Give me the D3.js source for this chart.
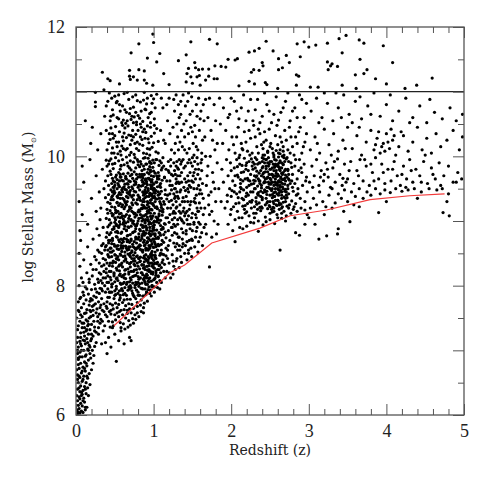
<!DOCTYPE html>
<html>
<head>
<meta charset="utf-8">
<script src="https://cdn.jsdelivr.net/npm/d3@7"></script>
<style>
  html, body { margin: 0; padding: 0; background: #fff; }
  svg { display: block; }
  .tick text { font-family: "Liberation Serif", "DejaVu Serif", serif; fill: #222; }
</style>
</head>
<body>
<div id="chart"></div>
<script>
// ── Data (z, log M*), grouped by region ────────────────────────────────────

// galaxies above the log M = 11 line
const massive = [
  [0.99,11.89],[0.81,11.74],[1.0,11.76],[0.71,11.6],[0.92,11.52],[1.04,11.46],[1.08,11.59],[0.34,11.3],[0.41,11.2],[0.44,11.17],
  [0.69,11.33],[0.69,11.24],[0.7,11.19],[0.81,11.34],[0.88,11.32],[0.74,11.23],[0.79,11.18],[0.88,11.18],[0.91,11.13],[0.99,11.1],
  [1.13,11.28],[1.2,11.11],[0.56,11.12],[0.36,11.03],[1.32,11.48],[1.42,11.57],[1.48,11.77],[1.53,11.45],[1.54,11.37],[1.45,11.36],
  [1.58,11.34],[1.43,11.28],[1.48,11.23],[1.56,11.23],[1.42,11.15],[1.5,11.13],[1.6,11.1],
  [1.72,11.81],[1.82,11.74],[2.45,11.78],[2.85,11.74],[2.94,11.77],[3.0,11.69],[3.09,11.72],[3.24,11.75],[2.36,11.67],[2.3,11.63],
  [2.23,11.61],[2.54,11.63],[2.71,11.56],[2.61,11.51],[2.75,11.45],[2.89,11.54],[3.24,11.46],[2.08,11.51],[2.05,11.49],[1.96,11.5],
  [1.79,11.4],[1.87,11.39],[1.93,11.38],[1.63,11.35],[1.71,11.35],[2.4,11.45],[2.29,11.34],[2.36,11.33],[2.26,11.3],[2.41,11.4],
  [2.61,11.34],[2.66,11.37],[2.84,11.26],[2.87,11.24],[3.25,11.34],[3.28,11.4],[1.71,11.24],[1.78,11.2],[1.82,11.2],[1.67,11.18],
  [2.23,11.16],[2.3,11.12],[2.44,11.14],[2.46,11.11],[2.84,11.1],[3.02,11.07],[3.12,11.07],[2.1,11.09],[2.6,11.05],[1.59,11.25],
  [3.39,11.82],[3.48,11.87],[3.65,11.8],[3.71,11.75],[3.96,11.71],[3.43,11.6],[3.66,11.5],[4.08,11.45],[3.3,11.43],[3.37,11.39],
  [3.75,11.34],[3.71,11.28],[3.6,11.26],[3.86,11.2],[4.59,11.21],[3.43,11.1],[3.61,11.05],[4.0,11.12],[4.24,11.05],[4.39,11.1]
];

// low-redshift tail, z < 0.45
const lowZTail = [
  [0.02,6.02],[0.03,6.05],[0.05,6.03],[0.04,6.1],[0.07,6.06],[0.09,6.04],[0.12,6.08],[0.03,6.15],[0.06,6.18],[0.02,6.22],
  [0.08,6.14],[0.11,6.2],[0.14,6.12],[0.04,6.28],[0.07,6.3],[0.1,6.26],[0.13,6.33],[0.05,6.36],[0.02,6.4],[0.09,6.38],
  [0.16,6.3],[0.06,6.45],[0.11,6.44],[0.03,6.5],[0.08,6.52],[0.13,6.5],[0.18,6.47],[0.05,6.58],[0.1,6.6],[0.15,6.57],
  [0.02,6.62],[0.07,6.65],[0.12,6.68],[0.17,6.64],[0.04,6.72],[0.09,6.74],[0.14,6.76],[0.2,6.7],[0.06,6.8],[0.11,6.82],
  [0.16,6.85],[0.03,6.86],[0.22,6.8],[0.08,6.9],[0.13,6.93],[0.18,6.95],[0.05,6.97],[0.1,7.0],[0.15,7.02],[0.21,7.0],
  [0.03,7.05],[0.07,7.07],[0.12,7.1],[0.17,7.08],[0.24,7.06],[0.05,7.14],[0.09,7.16],[0.14,7.18],[0.19,7.15],[0.02,7.2],
  [0.11,7.22],[0.16,7.25],[0.22,7.22],[0.06,7.27],[0.13,7.3],[0.18,7.32],[0.26,7.28],[0.08,7.35],[0.03,7.38],[0.15,7.38],
  [0.2,7.4],[0.1,7.42],[0.24,7.36],[0.05,7.45],[0.13,7.47],[0.17,7.5],[0.28,7.45],[0.08,7.52],[0.22,7.54],[0.11,7.57],
  [0.04,7.6],[0.19,7.6],[0.26,7.58],[0.14,7.63],[0.3,7.56],[0.07,7.66],[0.21,7.68],[0.17,7.7],[0.1,7.72],[0.25,7.72],
  [0.03,7.75],[0.13,7.78],[0.29,7.75],[0.19,7.8],[0.06,7.82],[0.23,7.84],[0.33,7.8],[0.16,7.87],[0.09,7.9],[0.27,7.9],
  [0.2,7.94],[0.31,7.96],[0.12,7.98],[0.04,8.0],[0.24,8.02],[0.17,8.05],[0.34,8.04],[0.28,8.1],[0.07,8.12],[0.21,8.15],
  [0.32,8.18],[0.14,8.2],[0.26,8.25],[0.36,8.22],[0.05,8.3],[0.19,8.33],[0.3,8.35],[0.1,8.4],[0.35,8.42],[0.24,8.45],
  [0.04,8.5],[0.28,8.55],[0.15,8.6],[0.33,8.62],[0.06,8.7],[0.22,8.72],[0.3,8.78],[0.05,8.85],[0.27,8.88],[0.15,8.95],
  [0.31,9.02],[0.08,9.1],[0.26,9.15],[0.04,9.3],[0.2,9.35],[0.3,9.45],[0.1,9.6],[0.26,9.7],[0.08,9.85],[0.18,9.95],
  [0.28,10.1],[0.19,10.2],[0.21,10.45],[0.25,10.77],[0.25,10.84],[0.25,10.99],[0.12,10.55],[0.32,10.35],
  [0.01,6.08],[0.01,6.3],[0.02,6.55],[0.01,6.7],[0.02,6.95],[0.01,7.12],[0.02,7.32],[0.01,7.5],[0.03,6.88],[0.04,6.6],
  [0.05,6.9],[0.06,7.2],[0.07,6.35],[0.09,6.22],[0.12,6.4],[0.14,6.6],[0.08,7.42],[0.11,7.35],[0.15,7.12],[0.18,7.05],
  [0.2,7.25],[0.23,7.45],[0.16,7.4],[0.13,7.58],[0.18,7.76],[0.22,7.62],[0.26,7.82],
  [0.35,7.3],[0.38,7.12],[0.42,7.2],[0.45,7.05],[0.52,6.83],[0.4,6.95],[0.47,7.35],[0.33,7.1],[0.55,7.15],[0.5,7.25],
  [0.58,7.3],[0.62,7.1],[0.69,7.2],[0.71,7.15],
  [0.3,8.2],[0.33,8.5],[0.35,8.9],[0.32,9.2],[0.36,9.5],[0.34,9.8],[0.37,8.0],[0.36,7.6],[0.34,7.45],
  [0.04,6.42],[0.08,6.68],[0.12,6.91],[0.06,7.1],[0.1,7.28],[0.15,7.45],[0.19,7.52],[0.23,7.7],[0.27,7.64],[0.3,7.88],
  [0.03,6.78],[0.07,7.0],[0.11,7.15],[0.14,7.32],[0.18,7.62],[0.21,7.78],[0.25,7.95],[0.29,8.05],[0.32,7.7],[0.35,8.12],
  [0.05,6.25],[0.09,6.55],[0.13,6.8],[0.16,7.0],[0.2,7.18],[0.24,7.3],[0.28,7.52],[0.31,7.66],[0.34,7.92],[0.02,7.0],
  [0.06,7.55],[0.1,7.85],[0.14,7.95],[0.17,8.1],[0.22,8.25],[0.26,8.4],[0.3,8.52],[0.33,8.3],[0.12,6.12],[0.15,6.42],
  [0.08,6.32],[0.11,6.72],[0.03,7.62],[0.05,7.8],[0.09,8.05],[0.19,6.88],[0.23,6.92],[0.26,7.12],[0.29,7.35],[0.32,7.48],
  [0.36,7.72],[0.38,7.9],[0.39,8.2],[0.37,8.55],[0.4,8.05],[0.41,7.82],[0.43,7.6],[0.44,8.35],[0.42,8.7],[0.38,8.4],
  [0.31,7.42],[0.34,7.62],[0.37,7.38],[0.4,7.65],[0.43,7.9],[0.33,7.95],[0.36,8.32],[0.39,8.62],[0.41,8.15],[0.44,7.72],
  [0.38,7.55],[0.32,8.08],[0.35,8.65],[0.42,8.45],[0.29,7.25]
];

// main population around z ~ 0.4–1.15
const mainPeak = [
  [0.42,7.45],[0.48,7.38],[0.55,7.52],[0.61,7.41],[0.66,7.57],[0.73,7.49],[0.79,7.58],[0.45,7.56],[0.51,7.47],[0.58,7.35],
  [0.64,7.5],[0.7,7.39],[0.76,7.55],[0.84,7.6],[0.4,7.52],[0.53,7.58],[0.6,7.55],[0.68,7.46],[0.87,7.58],[0.47,7.44],
  [0.57,7.43],[0.63,7.33],[0.74,7.42],[0.81,7.52],[0.5,7.55],[0.44,7.36],[0.67,7.36],[0.77,7.48],[0.56,7.6],[0.71,7.58],
  [0.39,7.68],[0.43,7.82],[0.47,7.7],[0.5,7.92],[0.53,7.66],[0.56,7.78],[0.59,7.95],[0.62,7.63],[0.65,7.85],[0.68,7.72],
  [0.71,7.97],[0.74,7.65],[0.77,7.8],[0.8,7.9],[0.83,7.7],[0.86,7.84],[0.89,7.95],[0.92,7.76],[0.95,7.88],[0.98,7.98],
  [1.01,7.9],[0.41,7.95],[0.45,7.62],[0.49,7.8],[0.52,7.99],[0.55,7.71],[0.58,7.62],[0.61,7.86],[0.64,7.69],[0.67,7.93],
  [0.7,7.79],[0.73,7.88],[0.76,7.97],[0.79,7.68],[0.82,7.85],[0.85,7.96],[0.88,7.73],[0.91,7.9],[0.94,7.98],[0.97,7.84],
  [0.4,7.75],[0.44,7.9],[0.48,7.64],[0.54,7.88],[0.6,7.74],[0.66,7.62],[0.72,7.71],[0.78,7.93],[0.84,7.78],[0.9,7.86],
  [0.46,7.98],[0.57,7.85],[0.63,7.97],[0.69,7.64],[0.75,7.83],[0.81,7.99],[0.87,7.66],[0.93,7.94],[0.51,7.73],[0.62,7.78],
  [0.38,8.12],[0.4,8.35],[0.42,8.05],[0.43,8.44],[0.45,8.22],[0.46,8.02],[0.48,8.38],[0.49,8.15],[0.51,8.47],[0.52,8.27],
  [0.54,8.08],[0.55,8.4],[0.57,8.18],[0.58,8.32],[0.6,8.03],[0.61,8.45],[0.63,8.24],[0.64,8.11],[0.66,8.36],[0.67,8.49],
  [0.69,8.06],[0.7,8.29],[0.72,8.42],[0.73,8.14],[0.75,8.33],[0.76,8.01],[0.78,8.25],[0.79,8.46],[0.81,8.1],[0.82,8.37],
  [0.84,8.2],[0.85,8.04],[0.87,8.43],[0.88,8.28],[0.9,8.13],[0.91,8.39],[0.93,8.07],[0.94,8.31],[0.96,8.48],[0.97,8.19],
  [0.99,8.34],[1.0,8.09],[1.02,8.44],[1.03,8.23],[1.05,8.36],[1.06,8.14],[1.08,8.47],[1.1,8.28],[1.12,8.4],[1.14,8.33],
  [1.16,8.46],[0.39,8.26],[0.41,8.48],[0.44,8.13],[0.47,8.3],[0.5,8.06],[0.53,8.41],[0.56,8.23],[0.59,8.14],[0.62,8.38],
  [0.65,8.02],[0.68,8.21],[0.71,8.09],[0.74,8.47],[0.77,8.16],[0.8,8.3],[0.83,8.44],[0.86,8.17],[0.89,8.05],[0.92,8.24],
  [0.95,8.12],[0.98,8.42],[1.01,8.27],[1.04,8.05],[1.07,8.31],[1.09,8.2],[1.11,8.49],[0.43,8.31],[0.46,8.45],[0.49,8.2],
  [0.52,8.11],[0.55,8.3],[0.58,8.47],[0.61,8.16],[0.64,8.4],[0.67,8.26],[0.7,8.45],[0.73,8.04],[0.76,8.38],[0.79,8.2],
  [0.82,8.03],[0.85,8.32],[0.88,8.46],[0.91,8.18],[0.94,8.43],[0.97,8.07],[1.0,8.39],[1.03,8.16],[0.45,8.09],[0.51,8.36],
  [0.57,8.04],[0.63,8.46],[0.69,8.34],[0.75,8.24],[0.81,8.42],[0.87,8.1],[0.93,8.36],[0.99,8.21],[1.05,8.25],[1.13,8.22],
  [0.38,8.6],[0.4,8.82],[0.41,8.55],[0.43,8.94],[0.44,8.7],[0.46,8.52],[0.47,8.87],[0.49,8.64],[0.5,8.98],[0.52,8.76],
  [0.53,8.57],[0.55,8.9],[0.56,8.68],[0.58,8.81],[0.59,8.53],[0.61,8.95],[0.62,8.73],[0.64,8.61],[0.65,8.86],[0.67,8.99],
  [0.68,8.56],[0.7,8.79],[0.71,8.92],[0.73,8.64],[0.74,8.83],[0.76,8.51],[0.77,8.75],[0.79,8.96],[0.8,8.6],[0.82,8.87],
  [0.83,8.7],[0.85,8.54],[0.86,8.93],[0.88,8.78],[0.89,8.63],[0.91,8.89],[0.92,8.57],[0.94,8.81],[0.95,8.98],[0.97,8.69],
  [0.98,8.84],[1.0,8.59],[1.01,8.94],[1.03,8.73],[1.04,8.86],[1.06,8.64],[1.07,8.97],[1.09,8.78],[1.1,8.55],[1.12,8.9],
  [1.13,8.67],[1.15,8.83],[1.16,8.58],[0.39,8.75],[0.42,8.66],[0.45,8.97],[0.48,8.54],[0.51,8.83],[0.54,8.62],[0.57,8.95],
  [0.6,8.71],[0.63,8.52],[0.66,8.77],[0.69,8.67],[0.72,8.54],[0.75,8.95],[0.78,8.66],[0.81,8.8],[0.84,8.94],[0.87,8.67],
  [0.9,8.55],[0.93,8.74],[0.96,8.62],[0.99,8.92],[1.02,8.77],[1.05,8.55],[1.08,8.81],[1.11,8.7],[1.14,8.96],[0.41,8.91],
  [0.44,8.58],[0.47,8.73],[0.5,8.61],[0.53,8.84],[0.56,8.99],[0.59,8.66],[0.62,8.88],[0.65,8.58],[0.68,8.9],[0.71,8.72],
  [0.74,8.6],[0.77,8.88],[0.8,8.72],[0.83,8.56],[0.86,8.8],[0.89,8.99],[0.92,8.68],[0.95,8.85],[0.98,8.53],[1.01,8.68],
  [1.04,8.99],[1.07,8.62],[1.1,8.87],[1.13,8.79],[0.43,8.79],[0.49,8.91],[0.55,8.56],[0.61,8.61],[0.67,8.7],[0.73,8.97],
  [0.79,8.58],[0.85,8.73],[0.91,8.66],[0.97,8.96],[1.03,8.6],[1.09,8.93],[0.46,8.65],[0.52,8.93],[0.58,8.58],[0.64,8.97],
  [0.7,8.6],[0.76,8.84],[0.82,8.63],[0.88,8.91],[0.94,8.57],[1.0,8.8],[1.06,8.75],
  [0.39,9.04],[0.41,9.29],[0.42,9.41],[0.44,9.16],[0.45,9.48],[0.47,9.08],[0.48,9.33],[0.5,9.21],[0.51,9.02],[0.53,9.38],
  [0.54,9.15],[0.56,9.44],[0.57,9.27],[0.59,9.06],[0.6,9.35],[0.62,9.19],[0.63,9.49],[0.65,9.1],[0.66,9.3],[0.68,9.43],
  [0.69,9.22],[0.71,9.01],[0.72,9.37],[0.74,9.13],[0.75,9.46],[0.77,9.28],[0.78,9.09],[0.8,9.4],[0.81,9.17],[0.83,9.32],
  [0.84,9.05],[0.86,9.45],[0.87,9.24],[0.89,9.36],[0.9,9.02],[0.92,9.3],[0.93,9.47],[0.95,9.18],[0.96,9.07],[0.98,9.39],
  [0.99,9.26],[1.01,9.12],[1.02,9.43],[1.04,9.2],[1.05,9.03],[1.07,9.35],[1.08,9.16],[1.1,9.46],[1.11,9.09],[1.13,9.3],
  [1.15,9.41],[0.4,9.18],[0.43,9.02],[0.46,9.37],[0.49,9.47],[0.52,9.13],[0.55,9.24],[0.58,9.41],[0.61,9.03],[0.64,9.28],
  [0.67,9.15],[0.7,9.47],[0.73,9.25],[0.76,9.06],[0.79,9.33],[0.82,9.48],[0.85,9.19],[0.88,9.08],[0.91,9.44],[0.94,9.22],
  [0.97,9.33],[1.0,9.47],[1.03,9.06],[1.06,9.4],[1.09,9.27],[1.12,9.14],[0.38,9.36],[0.44,9.27],[0.5,9.44],[0.56,9.11],
  [0.62,9.33],[0.68,9.04],[0.74,9.4],[0.8,9.14],[0.86,9.3],[0.92,9.12],[0.98,9.05],[1.04,9.34],[1.1,9.21],[0.41,9.12],
  [0.47,9.45],[0.53,9.29],[0.59,9.48],[0.65,9.38],[0.71,9.2],[0.77,9.45],[0.83,9.1],[0.89,9.2],[0.95,9.43],[1.01,9.38],
  [1.07,9.08],[1.14,9.26],[0.45,9.33],[0.51,9.17],[0.57,9.05],[0.63,9.22],[0.69,9.45],[0.75,9.11],[0.81,9.37],[0.87,9.02],
  [0.93,9.16],[0.99,9.49],[1.05,9.19],[0.48,9.1],[0.54,9.36],[0.6,9.25],[0.66,9.44],
  [0.38,9.62],[0.4,9.85],[0.42,9.55],[0.44,9.77],[0.45,9.96],[0.47,9.66],[0.49,9.52],[0.5,9.89],[0.52,9.71],[0.54,9.58],
  [0.55,9.93],[0.57,9.8],[0.59,9.63],[0.6,9.51],[0.62,9.87],[0.64,9.69],[0.65,9.99],[0.67,9.57],[0.69,9.82],[0.7,9.7],
  [0.72,9.53],[0.74,9.91],[0.75,9.76],[0.77,9.6],[0.79,9.95],[0.8,9.68],[0.82,9.84],[0.84,9.54],[0.85,9.78],[0.87,9.97],
  [0.89,9.64],[0.9,9.88],[0.92,9.56],[0.94,9.73],[0.95,9.92],[0.97,9.61],[0.99,9.83],[1.0,9.5],[1.02,9.74],[1.04,9.95],
  [1.05,9.65],[1.07,9.86],[1.09,9.58],[1.1,9.79],[1.12,9.98],[1.14,9.67],[0.41,9.7],[0.43,9.93],[0.46,9.58],[0.48,9.81],
  [0.51,9.98],[0.53,9.64],[0.56,9.53],[0.58,9.86],[0.61,9.73],[0.63,9.57],[0.66,9.9],[0.68,9.62],[0.71,9.79],[0.73,9.66],
  [0.76,9.98],[0.78,9.72],[0.81,9.55],[0.83,9.92],[0.86,9.67],[0.88,9.8],[0.91,9.61],[0.93,9.97],[0.96,9.76],[0.98,9.54],
  [1.01,9.9],[1.03,9.6],[1.06,9.75],[1.08,9.93],[1.11,9.63],[1.13,9.85],[0.39,9.94],[0.45,9.72],[0.5,9.6],[0.55,9.75],
  [0.6,9.95],[0.65,9.65],[0.7,9.93],[0.75,9.56],[0.8,9.87],[0.85,9.63],[0.9,9.52],[0.95,9.84],[1.0,9.69],[1.05,9.53],
  [1.1,9.9],[0.47,9.88],[0.57,9.68],[0.67,9.74],[0.77,9.82],[0.87,9.71],[0.97,9.89],[1.07,9.7],
  [0.4,10.1],[0.43,10.35],[0.46,10.05],[0.48,10.28],[0.51,10.46],[0.53,10.15],[0.56,10.38],[0.58,10.02],[0.61,10.24],[0.63,10.44],
  [0.66,10.12],[0.68,10.33],[0.71,10.06],[0.73,10.4],[0.76,10.2],[0.78,10.49],[0.81,10.09],[0.83,10.3],[0.86,10.17],[0.88,10.42],
  [0.91,10.04],[0.93,10.27],[0.96,10.45],[0.98,10.14],[1.01,10.36],[1.03,10.07],[1.06,10.23],[0.42,10.2],[0.45,10.44],[0.5,10.32],
  [0.55,10.22],[0.6,10.48],[0.65,10.29],[0.7,10.18],[0.75,10.03],[0.8,10.4],[0.85,10.26],[0.9,10.37],[0.95,10.11],[1.0,10.21],
  [0.47,10.13],[0.57,10.08],[0.62,10.36],[0.67,10.47],[0.72,10.25],[0.77,10.34],[0.82,10.19],[0.87,10.05],[0.92,10.47],[0.97,10.31],
  [0.39,10.4],[0.54,10.04],[0.64,10.1],[0.74,10.3],[0.84,10.45],[0.94,10.21],[1.04,10.43],[0.44,10.26],[0.59,10.16],[0.79,10.22],
  [0.37,10.62],[0.41,10.85],[0.44,10.55],[0.47,10.72],[0.5,10.93],[0.53,10.6],[0.56,10.8],[0.59,10.52],[0.62,10.97],[0.65,10.68],
  [0.68,10.88],[0.71,10.57],[0.74,10.76],[0.77,10.95],[0.8,10.63],[0.83,10.84],[0.86,10.54],[0.89,10.73],[0.92,10.9],[0.95,10.66],
  [0.98,10.82],[1.01,10.58],[1.04,10.96],[0.39,10.78],[0.43,10.98],[0.48,10.64],[0.52,10.83],[0.57,10.7],[0.61,10.56],[0.66,10.99],
  [0.7,10.74],[0.75,10.61],[0.79,10.86],[0.84,10.7],[0.88,10.99],[0.93,10.6],[0.97,10.94],[1.02,10.75],[0.46,10.9],[0.55,10.95],
  [0.64,10.51],[0.73,10.92],[0.82,10.59],[0.91,10.81],[1.0,10.89],[0.6,10.78],[0.69,10.66],[0.87,10.87],[0.78,10.53],[0.96,10.52],
  [0.45,10.62],[0.52,10.22],[0.58,9.85],[0.63,10.72],[0.69,10.02],[0.74,10.52],[0.8,9.92],[0.86,10.38],[0.92,10.12],[0.97,10.68],
  [1.03,9.95],[0.49,10.05],[0.55,10.58],[0.61,10.12],[0.67,9.85],[0.72,10.62],[0.78,10.12],[0.84,9.88],[0.9,10.72],[0.95,10.02],
  [1.01,10.48],[0.42,9.88],[0.47,10.35],[0.53,10.85],[0.6,10.3],[0.66,10.55],[0.71,10.32],[0.77,10.68],[0.83,10.5],[0.89,10.28]
];

// extra galaxies filling the saturated core of the z ~ 0.8 peak
const peakCore = [
  [0.47,8.03],[0.52,8.61],[0.58,9.12],[0.63,7.88],[0.69,8.47],[0.74,9.33],[0.8,8.14],[0.85,8.77],[0.91,9.58],[0.96,7.93],[1.02,8.52],[1.07,9.11],
  [0.49,8.88],[0.55,9.41],[0.6,8.29],[0.66,7.79],[0.71,9.02],[0.77,8.56],[0.83,9.68],[0.88,8.08],[0.94,8.95],[0.99,9.27],[1.05,7.97],[1.1,8.64],
  [0.46,9.22],[0.51,7.86],[0.57,8.49],[0.62,9.53],[0.68,8.18],[0.73,8.82],[0.79,7.74],[0.84,9.19],[0.9,8.41],[0.95,9.64],[1.01,8.86],[1.06,9.45],
  [0.48,8.37],[0.54,9.06],[0.59,7.95],[0.65,8.72],[0.7,9.61],[0.76,8.31],[0.81,9.04],[0.87,7.84],[0.92,8.67],[0.98,9.42],[1.03,8.2],[1.09,9.01],
  [0.5,9.55],[0.56,8.16],[0.61,8.97],[0.67,9.36],[0.72,7.92],[0.78,8.93],[0.83,8.38],[0.89,9.48],[0.94,8.11],[1.0,8.9],[1.04,9.6],[1.11,8.36],
  [0.45,8.58],[0.53,8.24],[0.58,9.68],[0.64,8.42],[0.69,9.18],[0.75,8.68],[0.8,9.52],[0.86,8.52],[0.91,7.9],[0.97,8.79],[1.02,9.21],[1.08,8.08],
  [0.47,9.39],[0.52,8.95],[0.57,7.81],[0.63,9.07],[0.68,8.6],[0.74,7.85],[0.79,9.26],[0.85,9.05],[0.9,8.81],[0.96,9.12],[1.01,7.98],[1.06,8.73],
  [0.49,8.18],[0.55,8.71],[0.6,9.45],[0.66,8.05],[0.71,8.36],[0.77,9.57],[0.82,8.26],[0.88,9.3],[0.93,9.66],[0.99,8.47],[1.04,8.34],[1.1,9.35],
  [0.51,9.13],[0.56,9.62],[0.62,8.12],[0.67,8.91],[0.73,9.5],[0.78,8.45],[0.84,7.96],[0.89,8.25],[0.95,8.58],[1.0,9.57],[1.05,9.05],[1.12,8.88],
  [0.46,7.9],[0.54,8.45],[0.59,8.83],[0.65,9.25],[0.7,8.0],[0.76,9.12],[0.81,8.6],[0.87,9.4],[0.92,9.15],[0.97,8.35],[1.03,9.47],[1.08,9.55],
  [0.48,9.62],[0.53,9.28],[0.61,8.68],[0.64,9.66],[0.72,8.52],[0.75,8.15],[0.82,9.36],[0.86,8.9],[0.93,8.55],[0.98,8.0],[1.02,8.65],[1.07,8.25],
  [0.5,8.48],[0.57,9.35],[0.62,8.05],[0.68,9.42],[0.71,8.7],[0.78,9.65],[0.8,7.85],[0.88,8.62],[0.94,9.38],[0.99,9.08],[1.04,8.99],[1.09,8.5],
  [0.52,7.95],[0.58,8.62],[0.63,9.3],[0.69,7.95],[0.74,9.0],[0.79,8.35],[0.85,9.25],[0.9,9.65],[0.96,8.7],[1.01,9.44],[1.06,8.15],[1.11,9.15],
  [0.55,8.92],[0.6,9.08],[0.66,8.55],[0.72,9.28],[0.77,8.05],[0.83,8.85],[0.89,8.15],[0.93,9.02],[0.98,9.6],[1.03,8.62],[1.08,9.3],
  [0.47,8.7],[0.53,9.5],[0.59,8.35],[0.65,8.85],[0.7,9.4],[0.75,8.42],[0.81,8.75],[0.86,9.55],[0.92,8.3],[0.97,9.18],[1.02,9.35],[1.07,9.65],
  [0.44,8.52],[0.5,9.05],[0.56,8.32],[0.61,9.62],[0.67,8.78],[0.72,9.15],[0.78,8.02],[0.83,8.62],[0.89,9.42],[0.94,8.22],[1.0,8.98],[1.05,9.68],
  [0.46,9.12],[0.52,8.42],[0.57,9.72],[0.63,8.92],[0.68,9.52],[0.74,8.38],[0.8,9.0],[0.85,9.72],[0.9,8.48],[0.96,9.32],[1.02,8.12],[1.07,8.82],
  [0.43,8.22],[0.49,9.42],[0.54,8.82],[0.6,8.58],[0.66,9.58],[0.71,8.22],[0.77,8.72],[0.82,9.15],[0.88,8.82],[0.93,9.8],[0.99,8.72],[1.04,9.22],
  [0.45,8.82],[0.51,9.68],[0.58,8.72],[0.64,8.25],[0.69,9.08],[0.75,9.62],[0.81,8.42],[0.86,9.2],[0.92,8.02],[0.97,9.5],[1.03,8.42],[1.08,9.42],
  [0.48,9.52],[0.53,8.12],[0.59,9.22],[0.65,9.48],[0.7,8.5],[0.76,8.58],[0.82,9.72],[0.87,8.32],[0.93,9.28],[0.98,8.3],[1.04,9.7],[0.55,9.55],
  [0.47,8.35],[0.53,8.75],[0.6,7.92],[0.66,8.68],[0.72,9.72],[0.77,8.92],[0.83,8.12],[0.88,9.58],[0.94,8.72],[1.0,8.28],[1.06,8.62],[0.62,9.0],
  [0.5,7.85],[0.56,7.92],[0.63,8.18],[0.68,7.98],[0.74,8.22],[0.8,8.05],[0.85,8.32],[0.91,8.12],[0.97,8.45],[1.02,8.35],[0.58,8.02],[0.7,8.12]
];

// the dense vertical stripe at z ~ 0.9
const denseStripe = [
  [0.86,7.95],[0.9,8.02],[0.94,8.06],[0.98,8.0],[1.01,8.1],[0.88,8.12],[0.92,8.16],[0.96,8.22],[0.99,8.18],[0.87,8.27],
  [0.91,8.3],[0.95,8.35],[1.0,8.33],[0.89,8.42],[0.93,8.45],[0.97,8.5],[1.02,8.47],[0.86,8.55],[0.9,8.58],[0.94,8.62],
  [0.98,8.65],[0.88,8.7],[0.92,8.74],[0.96,8.77],[1.0,8.72],[0.87,8.84],[0.91,8.86],[0.95,8.9],[0.99,8.88],[0.89,8.97],
  [0.93,9.0],[0.97,9.03],[1.01,9.0],[0.86,9.08],[0.9,9.1],[0.94,9.14],[0.98,9.17],[0.88,9.22],[0.92,9.25],[0.96,9.28],
  [1.0,9.24],[0.87,9.34],[0.91,9.38],[0.95,9.4],[0.99,9.36],[0.89,9.46],[0.93,9.5],[0.97,9.53],[1.01,9.5],[0.86,9.6],
  [0.9,9.62],[0.94,9.66],[0.98,9.64],[0.88,9.72],[0.92,9.75],[0.96,9.79],[1.0,9.77],[0.87,9.85],[0.91,9.88],[0.95,9.9],
  [0.99,9.94],[0.89,9.98],[0.93,8.4],[0.95,8.8],[0.91,9.2],[0.97,9.7],[0.9,8.92],[0.94,8.25],[0.96,9.56],[0.92,9.06],
  [0.88,8.37],[0.99,8.6],[0.87,9.44],[1.02,9.3],[0.85,8.2],[0.85,9.0],[0.85,9.7],[1.02,8.8]
];

// z ~ 1.05–1.7 shoulder of the first population
const midZ = [
  [1.17,8.22],[1.2,8.35],[1.22,8.12],[1.24,8.48],[1.26,8.3],[1.28,8.6],[1.3,8.42],[1.32,8.75],[1.34,8.55],[1.36,8.88],
  [1.38,8.65],[1.4,8.5],[1.42,8.8],[1.44,8.95],[1.46,8.7],[1.48,8.58],[1.5,8.85],[1.52,8.98],[1.54,8.75],[1.56,8.9],
  [1.58,8.68],[1.6,8.95],[1.62,8.82],[1.18,8.55],[1.21,8.7],[1.23,8.9],[1.25,8.18],[1.27,8.82],[1.29,8.38],[1.31,8.95],
  [1.33,8.28],[1.35,8.45],[1.37,8.72],[1.39,8.97],[1.41,8.62],[1.43,8.4],[1.45,8.55],[1.47,8.88],[1.49,8.45],[1.53,8.6],
  [1.57,8.52],[1.19,8.85],[1.3,8.65],[1.28,8.25],[1.33,8.62],[1.26,8.95],[1.36,8.36],[1.65,8.9],[1.63,8.62],[1.5,8.7],
  [1.16,9.05],[1.18,9.4],[1.2,9.75],[1.22,9.2],[1.24,9.55],[1.26,9.9],[1.28,9.12],[1.3,9.45],[1.32,9.8],[1.34,9.25],
  [1.36,9.6],[1.38,9.95],[1.4,9.08],[1.42,9.38],[1.44,9.7],[1.46,9.18],[1.48,9.52],[1.5,9.85],[1.52,9.3],[1.54,9.65],
  [1.56,9.98],[1.58,9.15],[1.6,9.48],[1.62,9.78],[1.64,9.35],[1.17,9.62],[1.19,9.92],[1.21,9.1],[1.23,9.48],[1.25,9.7],
  [1.27,9.35],[1.29,9.65],[1.31,9.02],[1.33,9.58],[1.35,9.88],[1.37,9.3],[1.39,9.52],[1.41,9.85],[1.43,9.15],[1.45,9.45],
  [1.47,9.75],[1.49,9.05],[1.51,9.6],[1.53,9.92],[1.55,9.4],[1.57,9.72],[1.59,9.28],[1.61,9.9],[1.63,9.58],[1.27,9.05],
  [1.28,9.5],[1.29,9.85],[1.3,9.22],[1.31,9.7],[1.26,9.42],[1.32,9.35],[1.33,9.95],[1.3,9.92],[1.27,9.78],[1.34,9.05],
  [1.25,9.25],[1.35,9.48],[1.29,9.2],[1.31,9.38],[1.28,9.72],[1.32,9.6],[1.22,9.85],[1.18,9.2],[1.4,9.3],[1.44,9.9],
  [1.48,9.3],[1.52,9.5],[1.56,9.2],[1.6,9.65],[1.42,9.6],[1.46,9.95],[1.5,9.12],[1.54,9.8],[1.58,9.55],[1.36,9.75],
  [1.38,9.15],[1.21,9.55],[1.24,9.02],[1.2,9.3],[1.16,9.8],[1.64,9.1],[1.62,9.95],[1.45,9.62],[1.55,9.05],[1.37,9.0],
  [1.06,10.05],[1.09,10.4],[1.12,10.75],[1.15,10.2],[1.18,10.55],[1.2,10.9],[1.23,10.1],[1.25,10.45],[1.27,10.7],[1.29,10.95],
  [1.31,10.3],[1.33,10.6],[1.35,10.85],[1.37,10.15],[1.39,10.5],[1.41,10.78],[1.43,10.05],[1.45,10.35],[1.47,10.65],[1.49,10.92],
  [1.51,10.2],[1.53,10.48],[1.55,10.8],[1.57,10.1],[1.59,10.4],[1.61,10.7],[1.63,10.25],[1.65,10.55],[1.67,10.88],[1.3,10.5],
  [1.34,10.22],[1.38,10.95],[1.42,10.55],[1.46,10.12],[1.5,10.7],[1.54,10.3],[1.58,10.9],[1.62,10.05],[1.28,10.2],[1.36,10.4],
  [1.44,10.85],[1.52,10.02],[1.6,10.58],[1.32,10.8],[1.4,10.3],[1.48,10.45],[1.56,10.62],[1.64,10.8],[1.26,10.88],[1.35,10.65],
  [1.45,10.98],[1.55,10.15],[1.21,10.35],[1.17,10.8],[1.13,10.25],[1.1,10.9],[1.4,10.1],[1.5,10.38],
  [1.1,8.05],[1.15,8.12],[1.08,7.95],[1.2,8.2],[1.25,8.38],[1.45,8.5],
  [1.07,8.62],[1.12,9.18],[1.16,8.74],[1.21,9.62],[1.24,8.9],[1.28,9.38],[1.31,8.55],[1.35,9.12],[1.39,9.82],[1.43,8.68],
  [1.47,9.25],[1.51,9.7],[1.55,8.84],[1.59,9.42],[1.09,9.52],[1.13,8.48],[1.18,9.05],[1.22,9.95],[1.26,8.66],[1.29,9.58],
  [1.33,9.15],[1.37,8.6],[1.41,9.47],[1.45,9.08],[1.49,8.72],[1.53,9.35],[1.57,9.88],[1.61,9.2],[1.06,9.02],[1.11,9.82],
  [1.15,8.95],[1.19,8.62],[1.23,9.32],[1.27,10.05],[1.3,8.8],[1.34,9.7],[1.38,9.36],[1.42,8.85],[1.46,9.55],[1.5,9.98],
  [1.54,9.1],[1.58,8.98],[1.08,8.32],[1.14,9.68],[1.17,9.34],[1.2,8.98],[1.25,9.12],[1.28,8.92],[1.32,10.1],[1.36,9.02],
  [1.4,9.65],[1.44,9.3],[1.48,9.9],[1.52,8.95],[1.56,9.5],[1.6,8.75],[1.1,9.25],[1.15,9.48],[1.19,9.78],[1.24,8.78],
  [1.27,9.5],[1.3,9.6],[1.33,8.75],[1.36,9.92],[1.39,9.2],[1.43,9.02],[1.47,8.95],[1.52,9.75],[1.57,9.15],[1.62,9.42],
  [1.12,8.88],[1.18,8.42],[1.23,9.72],[1.29,9.3],[1.34,9.45],[1.38,8.82],[1.44,9.5],[1.49,9.62],[1.54,9.28],[1.58,9.8],
  [1.26,9.15],[1.31,9.82],[1.21,9.42],[1.41,9.12]
];

// sparse gap z ~ 1.65–1.95
const gapZ = [
  [1.66,9.2],[1.68,9.55],[1.7,9.85],[1.72,8.29],[1.72,9.1],[1.74,9.45],[1.76,9.75],[1.78,9.0],[1.8,9.3],[1.67,8.95],
  [1.69,9.7],[1.71,9.4],[1.73,10.0],[1.75,9.15],[1.77,9.6],[1.79,10.1],[1.66,10.3],[1.7,10.6],[1.74,10.4],[1.78,10.8],
  [1.82,10.2],[1.86,10.5],[1.9,10.75],[1.84,9.5],[1.88,9.8],[1.92,9.2],[1.85,10.9],[1.8,10.55],[1.93,10.4],[1.68,8.8],
  [1.75,8.75],[1.82,9.9],[1.87,9.3],[1.9,9.6],[1.94,9.95],[1.76,10.25],[1.72,10.9],[1.96,10.6],[1.83,8.95],[1.67,10.0],
  [1.71,9.25],[1.79,9.5],[1.81,8.8],[1.89,10.2],[1.95,9.4]
];

// second population around z ~ 2–3
const clusterZ2 = [
  [1.96,8.95],[1.99,9.1],[2.02,8.85],[2.05,9.02],[2.08,9.15],[2.11,8.9],[2.14,9.05],[2.17,9.18],[2.2,8.92],[2.23,9.08],
  [2.26,9.2],[2.29,8.97],[2.32,9.12],[2.35,9.0],[2.38,9.16],[2.41,8.94],[2.44,9.06],[2.47,9.19],[2.5,9.02],[2.53,9.14],
  [2.56,8.96],[2.59,9.1],[2.62,9.18],[2.65,9.04],[2.68,9.15],[2.71,9.08],[2.74,9.2],[2.77,9.12],[2.8,9.18],[2.85,9.15],
  [2.9,9.2],[2.95,9.17],[2.0,9.18],[2.1,9.05],[2.2,9.14],[2.3,9.05],[2.4,9.2],[2.5,9.12],[2.6,9.05],[2.7,9.0],
  [2.15,8.88],[2.25,8.98],[2.45,8.99],[2.55,9.2],[2.65,9.12],[2.05,8.68],[2.63,8.55],[2.35,8.84],[2.82,9.05],[2.98,9.1],
  [1.95,9.3],[1.98,9.5],[2.0,9.38],[2.03,9.22],[2.05,9.55],[2.07,9.42],[2.1,9.28],[2.12,9.58],[2.14,9.35],[2.16,9.48],
  [2.18,9.24],[2.2,9.52],[2.22,9.4],[2.24,9.3],[2.26,9.57],[2.28,9.45],[2.3,9.22],[2.32,9.36],[2.34,9.54],[2.36,9.28],
  [2.38,9.46],[2.4,9.33],[2.42,9.59],[2.44,9.25],[2.46,9.41],[2.48,9.52],[2.5,9.3],[2.52,9.47],[2.54,9.21],[2.56,9.38],
  [2.58,9.56],[2.6,9.32],[2.62,9.44],[2.64,9.26],[2.66,9.53],[2.68,9.37],[2.7,9.49],[2.72,9.23],[2.74,9.42],[2.76,9.58],
  [2.78,9.31],[2.8,9.46],[2.83,9.27],[2.86,9.5],[2.89,9.35],[2.92,9.55],[2.95,9.3],[2.98,9.45],[2.01,9.47],[2.06,9.27],
  [2.11,9.45],[2.15,9.23],[2.19,9.38],[2.23,9.55],[2.27,9.32],[2.31,9.5],[2.35,9.4],[2.39,9.22],[2.43,9.48],[2.47,9.3],
  [2.51,9.57],[2.55,9.44],[2.59,9.24],[2.63,9.52],[2.67,9.29],[2.71,9.4],[2.75,9.25],[2.79,9.52],[2.84,9.4],[2.25,9.45],
  [2.37,9.58],[2.45,9.35],[2.53,9.36],[2.57,9.5],[2.61,9.4],[2.65,9.35],[2.69,9.57],[2.73,9.5],[2.33,9.26],[2.41,9.44],
  [2.49,9.24],[2.29,9.58],[2.21,9.27],[2.13,9.5],[2.09,9.36],[2.55,9.27],[2.65,9.45],[2.6,9.55],[2.5,9.4],[2.7,9.3],
  [1.96,9.7],[1.99,9.9],[2.02,9.62],[2.04,9.82],[2.07,9.95],[2.09,9.68],[2.11,9.88],[2.13,9.75],[2.15,9.62],[2.17,9.97],
  [2.19,9.8],[2.21,9.66],[2.23,9.92],[2.25,9.72],[2.27,9.85],[2.29,9.63],[2.31,9.98],[2.33,9.77],[2.35,9.65],[2.37,9.9],
  [2.39,9.7],[2.41,9.84],[2.43,9.61],[2.45,9.95],[2.47,9.76],[2.49,9.88],[2.51,9.64],[2.53,9.82],[2.55,9.99],[2.57,9.7],
  [2.59,9.86],[2.61,9.62],[2.63,9.93],[2.65,9.74],[2.67,9.87],[2.69,9.66],[2.71,9.96],[2.73,9.78],[2.75,9.63],[2.77,9.9],
  [2.79,9.72],[2.82,9.85],[2.85,9.65],[2.88,9.95],[2.91,9.75],[2.94,9.88],[2.97,9.68],[2.0,9.78],[2.05,9.7],[2.1,9.98],
  [2.14,9.86],[2.18,9.65],[2.22,9.78],[2.26,9.96],[2.3,9.7],[2.34,9.88],[2.38,9.78],[2.42,9.96],[2.46,9.66],[2.5,9.8],
  [2.54,9.68],[2.58,9.94],[2.62,9.8],[2.66,9.64],[2.7,9.8],[2.74,9.92],[2.78,9.62],[2.83,9.95],[2.87,9.78],[2.36,9.62],
  [2.44,9.76],[2.48,9.98],[2.52,9.72],[2.56,9.85],[2.6,9.72],[2.64,9.66],[2.68,9.98],[2.72,9.68],[2.4,9.92],[2.32,9.68],
  [2.28,9.8],[2.24,9.62],[2.2,9.9],[2.16,9.76],[2.12,9.64],[2.08,9.84],[2.57,9.6],[2.61,9.99],[2.65,9.9],[2.45,9.85],
  [2.55,9.78],[2.5,9.92],[2.6,9.88],[2.42,9.68],[2.67,9.75],[2.63,9.82],[2.53,9.6],[2.47,9.9],[2.58,9.74],
  [1.97,10.1],[2.01,10.3],[2.05,10.05],[2.09,10.45],[2.13,10.2],[2.17,10.38],[2.21,10.08],[2.25,10.28],[2.29,10.48],[2.33,10.15],
  [2.37,10.35],[2.41,10.02],[2.45,10.25],[2.49,10.42],[2.53,10.12],[2.57,10.32],[2.61,10.05],[2.65,10.22],[2.69,10.4],[2.73,10.1],
  [2.77,10.3],[2.81,10.02],[2.85,10.2],[2.89,10.45],[2.93,10.15],[2.97,10.35],[2.03,10.18],[2.11,10.02],[2.19,10.22],[2.27,10.05],
  [2.35,10.42],[2.43,10.38],[2.51,10.2],[2.59,10.48],[2.67,10.08],[2.75,10.45],[2.83,10.3],[2.91,10.05],[2.23,10.4],[2.39,10.18],
  [2.55,10.02],[2.63,10.3],[2.71,10.25],[2.47,10.08],[2.31,10.3],[2.15,10.1],[2.07,10.3],[2.79,10.15],[2.87,10.38],[2.95,10.22],
  [1.98,10.65],[2.04,10.85],[2.1,10.58],[2.16,10.95],[2.22,10.7],[2.28,10.55],[2.34,10.88],[2.4,10.62],[2.46,10.8],[2.52,10.52],
  [2.58,10.92],[2.64,10.68],[2.7,10.85],[2.76,10.55],[2.82,10.75],[2.88,10.95],[2.94,10.6],[2.0,10.9],[2.13,10.75],[2.25,10.88],
  [2.37,10.52],[2.49,10.7],[2.61,10.56],[2.73,10.98],[2.85,10.6],[2.97,10.82],[2.19,10.55],[2.43,10.98],[2.67,10.75],[2.31,10.72],
  [2.55,10.65],[2.79,10.7],[2.91,10.88],[2.07,10.7]
];

// the densest part of the z ~ 2.5 clump
const clusterCore = [
  [2.3,9.5],[2.33,9.7],[2.36,9.9],[2.39,9.55],[2.42,9.75],[2.45,9.95],[2.48,9.6],[2.51,9.8],[2.54,10.05],[2.57,9.65],
  [2.6,9.85],[2.63,10.1],[2.66,9.58],[2.69,9.78],[2.72,9.98],[2.32,9.3],[2.35,10.05],[2.38,9.38],[2.41,10.12],[2.44,9.45],
  [2.47,9.68],[2.5,9.5],[2.53,9.72],[2.56,9.95],[2.59,9.42],[2.62,9.62],[2.65,9.82],[2.68,10.02],[2.71,9.45],[2.74,9.65],
  [2.31,9.82],[2.34,9.42],[2.37,9.62],[2.4,9.82],[2.43,10.02],[2.46,9.52],[2.49,9.72],[2.52,9.92],[2.55,9.55],[2.58,9.78],
  [2.61,9.48],[2.64,9.68],[2.67,9.88],[2.7,9.62],[2.73,9.8],[2.58,9.25],[2.62,9.28],[2.66,9.22],[2.54,9.3],[2.5,9.22],
  [2.46,9.28],[2.7,9.35],[2.6,10.18],[2.5,10.15],[2.4,9.98],[2.56,9.6],[2.61,9.7],[2.63,9.55],[2.57,9.88],[2.53,9.5],
  [2.65,9.4],[2.59,9.58],[2.62,9.9],[2.55,9.38],[2.6,9.32],[2.64,9.6],[2.66,9.72],[2.52,9.6],[2.48,9.85],[2.44,9.65],
  [2.57,9.45],[2.67,9.5],[2.69,9.92],[2.63,9.78],[2.55,9.7],[2.61,9.6],
  [2.22,9.63],[2.28,9.91],[2.35,9.44],[2.41,9.73],[2.47,10.06],[2.53,9.41],[2.59,9.69],[2.66,10.0],[2.72,9.36],[2.78,9.83],
  [2.12,9.52],[2.19,9.86],[2.26,9.29],[2.33,9.95],[2.39,9.51],[2.45,9.81],[2.52,9.18],[2.58,10.09],[2.64,9.47],[2.7,9.71],
  [2.08,9.71],[2.16,9.33],[2.24,10.02],[2.31,9.62],[2.37,9.21],[2.43,9.9],[2.49,9.57],[2.56,9.83],[2.62,9.25],[2.68,9.64],
  [2.76,10.05],[2.82,9.58],[2.9,9.82],[2.04,9.45],[2.14,10.12],[2.29,9.12],[2.42,10.22],[2.55,9.15],[2.67,10.15],[2.81,9.22],
  [2.36,9.74],[2.5,9.66],[2.61,9.84],[2.73,9.55],[2.46,9.46],[2.57,9.32],[2.63,10.04],[2.54,9.88],[2.4,9.36],[2.69,9.46],
  [2.2,9.43],[2.3,9.88],[2.44,9.6],[2.6,9.5],[2.74,9.72],[2.86,9.42],[2.96,9.62],[2.18,9.12],[2.34,9.18],[2.65,9.2]
];

// sparse high-redshift galaxies, z > 3
const highZ = [
  [3.02,9.2],[3.06,9.35],[3.1,9.25],[3.14,9.45],[3.18,9.3],[3.22,9.22],[3.26,9.4],[3.3,9.5],[3.34,9.28],[3.38,9.42],
  [3.42,9.35],[3.46,9.48],[3.5,9.3],[3.55,9.45],[3.6,9.38],[3.65,9.5],[3.7,9.35],[3.75,9.45],[3.8,9.4],[3.86,9.5],
  [3.92,9.42],[3.98,9.48],[4.05,9.44],[4.12,9.5],[4.2,9.46],[4.28,9.48],[4.36,9.5],[4.45,9.45],[4.55,9.5],[4.65,9.48],
  [4.72,9.5],[4.78,9.3],[4.8,9.42],[4.9,9.6],[3.08,8.95],[3.13,8.72],[3.23,8.77],[3.37,8.8],[3.38,8.88],[3.53,8.99],
  [3.9,9.13],[4.73,9.13],[4.81,9.08],[2.83,8.82],[2.88,8.78],[2.95,8.95],[3.0,9.05],[3.2,9.1],[3.45,9.15],[3.65,9.22],
  [4.0,9.3],[4.4,9.35],[3.3,9.2],[3.58,9.25],
  [3.01,9.6],[3.04,9.85],[3.07,9.7],[3.1,9.95],[3.13,9.55],[3.16,9.78],[3.19,9.62],[3.22,9.9],[3.25,9.68],[3.28,9.52],
  [3.31,9.82],[3.34,9.6],[3.37,9.96],[3.4,9.72],[3.43,9.55],[3.46,9.88],[3.5,9.65],[3.54,9.92],[3.58,9.58],[3.62,9.78],
  [3.66,9.95],[3.7,9.62],[3.74,9.85],[3.78,9.55],[3.82,9.75],[3.86,9.98],[3.9,9.65],[3.94,9.88],[3.98,9.58],[4.02,9.8],
  [4.06,9.62],[4.1,9.92],[4.14,9.7],[4.18,9.55],[4.22,9.85],[4.26,9.65],[4.3,9.95],[4.34,9.6],[4.38,9.8],[4.43,9.7],
  [4.48,9.92],[4.53,9.58],[4.58,9.82],[4.63,9.65],[4.68,9.9],[4.74,9.7],[4.8,9.85],[4.86,9.6],[4.92,9.75],[4.97,9.65],
  [3.05,9.52],[3.15,9.68],[3.24,9.8],[3.33,9.92],[3.44,9.66],[3.52,9.78],[3.64,9.7],[3.72,9.95],[3.84,9.62],[3.96,9.75],
  [4.08,9.8],[4.2,9.72],[4.32,9.78],[4.45,9.6],[4.6,9.72],[4.7,9.55],[3.2,9.72],[3.48,9.6],[3.8,9.88],[4.25,9.52],
  [3.02,10.1],[3.08,10.3],[3.14,10.05],[3.2,10.42],[3.26,10.18],[3.32,10.35],[3.38,10.08],[3.44,10.25],[3.5,10.45],[3.56,10.12],
  [3.62,10.32],[3.68,10.02],[3.74,10.22],[3.8,10.4],[3.84,10.1],[3.88,10.28],[3.92,10.05],[3.96,10.2],[4.0,10.35],[4.04,10.12],
  [4.08,10.25],[4.12,10.02],[4.16,10.15],[4.22,10.32],[4.28,10.08],[4.34,10.22],[4.4,10.45],[4.46,10.1],[4.52,10.28],[4.58,10.05],
  [4.64,10.35],[4.7,10.15],[4.78,10.25],[4.86,10.4],[4.94,10.1],[3.86,10.18],[3.9,10.38],[4.02,10.22],[4.06,10.42],[4.1,10.32],
  [3.98,10.08],[3.94,10.15],[3.11,10.2],[3.29,10.02],[3.47,10.12],[3.65,10.45],[4.19,10.38],[4.5,10.02],[4.98,10.3],
  [3.03,10.7],[3.1,10.9],[3.17,10.6],[3.24,10.82],[3.31,10.55],[3.38,10.75],[3.45,10.95],[3.52,10.65],[3.6,10.85],[3.68,10.58],
  [3.76,10.78],[3.84,10.98],[3.92,10.62],[4.0,10.8],[4.08,10.55],[4.16,10.7],[4.25,10.9],[4.34,10.6],[4.43,10.78],[4.52,10.52],
  [4.62,10.68],[4.72,10.58],[4.82,10.75],[4.9,10.55],[4.98,10.65],[3.13,10.52],[3.35,10.98],[3.56,10.52],[3.8,10.65],[4.05,10.95],
  [4.3,10.52],[4.56,10.88],[3.42,10.6],[3.2,10.98],[3.66,10.92]
];

// red mass-completeness curve
const limitZ    = [0.49, 1.21, 1.40, 1.75, 2.37, 2.76, 3.23, 3.79, 4.30, 4.75];
const limitMass = [7.38, 8.20, 8.32, 8.66, 8.89, 9.08, 9.17, 9.33, 9.39, 9.42];

const xTicksMajor = [0, 1, 2, 3, 4, 5];
const yTicksMajor = [6, 7, 8, 9, 10, 11, 12];
const yLabelled   = [6, 8, 10, 12];
const massCut = 11;

// ── Layout ──────────────────────────────────────────────────────────────────
const W = 491, H = 491;
const margin = { top: 27, right: 27, bottom: 76, left: 76 };
const iw = W - margin.left - margin.right;   // 388
const ih = H - margin.top - margin.bottom;   // 388

const svg = d3.select("#chart").append("svg")
  .attr("width", W).attr("height", H);

const g = svg.append("g").attr("transform", `translate(${margin.left},${margin.top})`);

const x = d3.scaleLinear().domain([0, 5]).range([0, iw]);
const y = d3.scaleLinear().domain([6, 12]).range([ih, 0]);

svg.append("clipPath").attr("id", "plot-clip")
  .append("rect").attr("width", iw).attr("height", ih);

// ── Points ──────────────────────────────────────────────────────────────────
const allPoints = [].concat(lowZTail, mainPeak, peakCore, denseStripe, midZ, gapZ, clusterZ2, clusterCore, highZ, massive);

g.append("g").attr("clip-path", "url(#plot-clip)")
  .selectAll("circle")
  .data(allPoints)
  .join("circle")
    .attr("cx", d => x(d[0]))
    .attr("cy", d => y(d[1]))
    .attr("r", 1.6)
    .attr("fill", "#000");

// horizontal line at log M = 11
g.append("line")
  .attr("x1", 0).attr("x2", iw)
  .attr("y1", y(massCut)).attr("y2", y(massCut))
  .attr("stroke", "#222").attr("stroke-width", 1.1);

// red limit curve
g.append("path")
  .datum(limitZ.map((z, i) => [z, limitMass[i]]))
  .attr("fill", "none")
  .attr("stroke", "#f23a3a")
  .attr("stroke-width", 1.1)
  .attr("d", d3.line().x(d => x(d[0])).y(d => y(d[1])));

// ── Axes (ticks inward on all four sides) ──────────────────────────────────
const AXIS_COL = "#555";
const xMinor = d3.range(0, 5.001, 0.2).filter(v => Math.abs(v - Math.round(v)) > 1e-6);
const yMinor = d3.range(6.5, 12, 1);

function styleAxis(sel) {
  sel.select(".domain").remove();
  sel.selectAll(".tick line").attr("stroke", AXIS_COL).attr("stroke-width", 1);
}

g.append("g").attr("transform", `translate(0,${ih})`)
  .call(d3.axisBottom(x).tickValues(xTicksMajor).tickSize(-11).tickPadding(9).tickFormat(d3.format("d")))
  .call(styleAxis)
  .selectAll("text").attr("font-size", 18);
g.append("g").attr("transform", `translate(0,${ih})`)
  .call(d3.axisBottom(x).tickValues(xMinor).tickSize(-6).tickFormat(""))
  .call(styleAxis);
g.append("g")
  .call(d3.axisTop(x).tickValues(xTicksMajor).tickSize(-11).tickFormat(""))
  .call(styleAxis);
g.append("g")
  .call(d3.axisTop(x).tickValues(xMinor).tickSize(-6).tickFormat(""))
  .call(styleAxis);

g.append("g")
  .call(d3.axisLeft(y).tickValues(yTicksMajor).tickSize(-11).tickPadding(11)
    .tickFormat(d => yLabelled.includes(d) ? d : ""))
  .call(styleAxis)
  .selectAll("text").attr("font-size", 18);
g.append("g")
  .call(d3.axisLeft(y).tickValues(yMinor).tickSize(-6).tickFormat(""))
  .call(styleAxis);
g.append("g").attr("transform", `translate(${iw},0)`)
  .call(d3.axisRight(y).tickValues(yTicksMajor).tickSize(-11).tickFormat(""))
  .call(styleAxis);
g.append("g").attr("transform", `translate(${iw},0)`)
  .call(d3.axisRight(y).tickValues(yMinor).tickSize(-6).tickFormat(""))
  .call(styleAxis);

// frame
g.append("rect")
  .attr("width", iw).attr("height", ih)
  .attr("fill", "none")
  .attr("stroke", AXIS_COL).attr("stroke-width", 1.3);

// ── Axis titles ─────────────────────────────────────────────────────────────
const TITLE_FONT = "'DejaVu Serif', 'Liberation Serif', serif";

svg.append("text")
  .attr("x", margin.left + iw / 2).attr("y", 455)
  .attr("text-anchor", "middle")
  .attr("font-family", TITLE_FONT)
  .attr("font-size", 14).attr("fill", "#222")
  .text("Redshift (z)");

const yTitle = svg.append("text")
  .attr("transform", `translate(33,${margin.top + ih / 2 - 14}) rotate(-90)`)
  .attr("text-anchor", "middle")
  .attr("font-family", TITLE_FONT)
  .attr("font-size", 14).attr("fill", "#222");
yTitle.append("tspan").text("log Stellar Mass (M");
yTitle.append("tspan").attr("font-size", 7).attr("dy", 3).attr("font-family", "'DejaVu Sans', sans-serif").text("\u2299");
yTitle.append("tspan").attr("dy", -3).text(")");
</script>
</body>
</html>
